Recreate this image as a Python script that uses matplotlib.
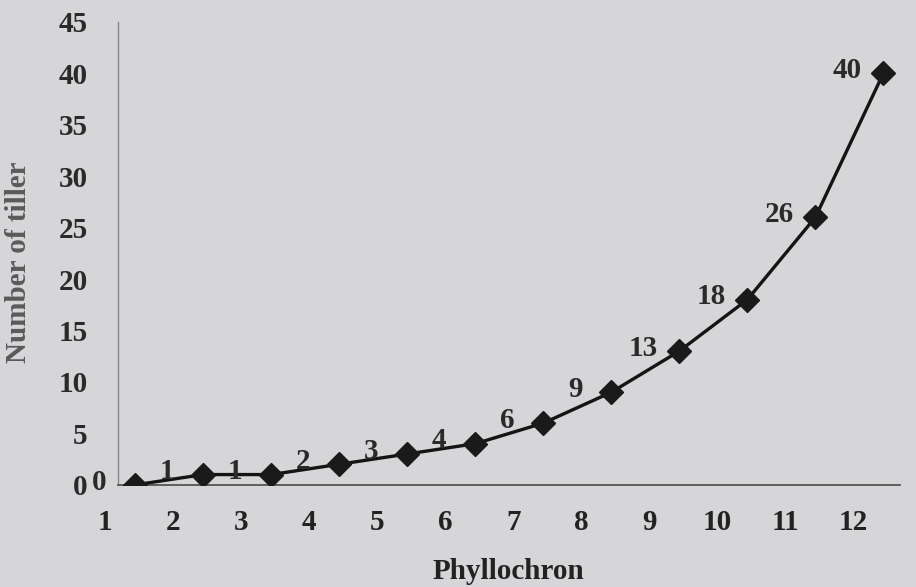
import numpy as np
import matplotlib
matplotlib.use('Agg')
import matplotlib.pyplot as plt

# Tillers per phyllochron
phyllochron = [1, 2, 3, 4, 5, 6, 7, 8, 9, 10, 11, 12]
tillers = [0, 1, 1, 2, 3, 4, 6, 9, 13, 18, 26, 40]
y_ticks = [0, 5, 10, 15, 20, 25, 30, 35, 40, 45]

plt.rcParams['font.family'] = ['Liberation Serif', 'DejaVu Serif']

bg = '#d6d6d9'
fig = plt.figure(figsize=(9.16, 5.87), dpi=100, facecolor=bg)
ax = fig.add_axes([0.129, 0.174, 0.854, 0.789])
ax.set_facecolor(bg)

pos = np.arange(len(phyllochron))
ax.plot(pos, tillers, color='#141414', lw=2.4, marker='D', markersize=12,
        markerfacecolor='#1a1a1a', markeredgecolor='#1a1a1a', zorder=3)

# data labels to the left of each point
for x, v in zip(pos, tillers):
    ax.annotate(str(v), (x, v), xytext=(-26, 2), textcoords='offset points',
                ha='center', va='center', fontsize=21, fontweight='bold',
                color='#2a2a2a')

ax.set_xlim(-0.25, len(pos) - 0.75)
ax.set_ylim(0, 45)

for s in ['top', 'right']:
    ax.spines[s].set_visible(False)
ax.spines['left'].set_color('#8a8a8a')
ax.spines['left'].set_linewidth(1.0)
ax.spines['bottom'].set_color('#555555')
ax.spines['bottom'].set_linewidth(1.3)

ax.set_yticks(y_ticks)
ax.set_yticklabels([str(t) for t in y_ticks], fontsize=21, fontweight='bold',
                   color='#2a2a2a')
ax.tick_params(axis='y', length=0, pad=22)

# category labels sit a bit left of the points
ax.set_xticks([])
for x, lab in zip(pos, phyllochron):
    ax.text(x - 0.44, -3.7, str(lab), ha='center', va='center', fontsize=21,
            fontweight='bold', color='#222222', clip_on=False)

fig.text(0.555, 0.027, 'Phyllochron', ha='center', va='center', fontsize=21,
         fontweight='bold', color='#222222')
ax.set_ylabel('Number of tiller', fontsize=21, fontweight='bold', color='#5a5a5a')
ax.yaxis.set_label_coords(-0.11, 0.48)

fig.savefig('out.png', dpi=100, facecolor=bg)
